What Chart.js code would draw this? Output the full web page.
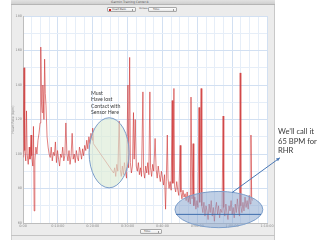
<!DOCTYPE html>
<html><head><meta charset="utf-8">
<script src="https://cdn.jsdelivr.net/npm/chart.js@4.4.1/dist/chart.umd.min.js"></script>
<style>
html,body{margin:0;padding:0;width:320px;height:240px;overflow:hidden;background:#fff;font-family:"DejaVu Sans",sans-serif;}
#win{position:absolute;left:11px;top:0;width:264px;height:240px;background:#ececec;border-left:1px solid #d0d0d0;border-right:1px solid #c8c8c8;box-sizing:border-box;}
#titlebar{position:absolute;left:11px;top:0;width:264px;height:5px;background:linear-gradient(#e2e2e2,#cfcfcf);border-bottom:1px solid #b5b5b5;box-sizing:border-box;}
#title{position:absolute;left:100px;top:0;width:60px;text-align:center;font-size:3px;line-height:4px;color:#555;}
.dd{position:absolute;height:5px;border:1px solid #a8a8a8;border-radius:1px;background:linear-gradient(#fff,#e6e6e6);box-sizing:border-box;font-size:2.6px;line-height:3px;color:#333;}
.dd span{position:absolute;top:0;}
.dd i{position:absolute;right:1px;top:0.5px;width:1px;height:2px;border-left:1px solid #999;}
#sq{position:absolute;left:1px;top:0.5px;width:2px;height:2px;background:#d41b1b;}
#vs{position:absolute;left:139px;top:7px;font-size:2.6px;line-height:4px;color:#444;}
#botline{position:absolute;left:11px;top:235px;width:264px;height:1px;background:#c4c4c4;}
#c{position:absolute;left:0;top:0;}
.note{position:absolute;font-family:Lato,"Open Sans",sans-serif;color:#3a3a3a;white-space:nowrap;z-index:5;}
#n1{left:91px;top:90px;font-size:5.2px;line-height:6.4px;}
#n2{left:278px;top:127px;font-size:7.6px;line-height:9.6px;}
</style></head>
<body>
<div id="win"></div>
<div id="titlebar"></div>
<div id="title">Garmin Training Center®</div>
<div class="dd" style="left:107px;top:7px;width:29px;"><div id="sq"></div><span style="left:4px">Heart Rate</span><i></i></div>
<div id="vs">Versus</div>
<div class="dd" style="left:148px;top:7px;width:29px;"><span style="left:4px">Time</span><i></i></div>
<div class="dd" style="left:140px;top:229px;width:22px;"><span style="left:3px">Time</span><i></i></div>
<div id="botline"></div>
<canvas id="c" width="320" height="240"></canvas>
<div class="note" id="n1">Must<br>Have lost<br>Contact with<br>Sensor Here</div>
<div class="note" id="n2">We’ll call it<br>65 BPM for<br>RHR</div>
<script>
// elapsed time (minutes)
const timeMin = [
0.0,0.3,0.5,0.8,1.0,1.2,1.5,1.8,2.0,2.3,2.5,2.8,3.0,3.2,3.4,3.7,4.0,4.3,4.6,4.9,
5.1,5.3,5.5,5.7,6.0,6.2,6.4,6.6,6.9,7.2,7.5,7.8,8.1,8.4,8.7,9.0,9.3,9.6,9.9,10.2,
10.5,10.8,11.1,11.4,11.7,12.0,12.3,12.6,12.9,13.2,13.5,13.8,14.1,14.4,14.7,15.0,15.3,15.6,15.9,16.2,
16.5,16.8,17.1,17.4,17.7,18.0,18.3,18.6,18.9,19.2,19.5,19.8,20.0,20.2,
26.0,26.3,26.6,26.9,27.2,27.6,27.9,28.2,28.5,28.8,29.1,29.4,29.7,30.1,30.3,30.6,30.8,31.1,31.4,31.7,
31.9,32.2,32.5,32.8,33.1,33.4,33.7,34.0,34.4,34.6,34.9,35.2,35.5,35.8,36.1,36.4,36.6,36.9,37.2,37.5,
37.9,38.2,38.5,38.8,39.1,39.4,39.7,40.0,40.3,40.6,40.9,41.1,41.4,41.6,41.9,42.2,42.5,42.8,43.0,43.3,
43.5,43.8,44.1,44.4,44.7,45.1,45.3,45.6,45.9,46.2,46.5,46.8,47.1,47.4,47.7,48.0,48.2,48.5,48.8,49.0,
49.3,49.6,49.9,50.2,50.5,50.7,51.1,51.3,51.6,51.9,52.2,52.5,52.8,53.1,53.4,53.7,54.0,54.3,54.6,54.9,
55.2,55.5,55.8,56.1,56.4,56.7,57.1,57.4,57.6,57.9,58.2,58.5,58.8,59.1,59.4,59.7,60.0,60.3,60.6,60.9,
61.2,61.5,61.8,62.1,62.3,62.5,62.8,63.1,63.4,63.7,64.0,64.3,64.6,64.9,65.2,65.4,65.6,65.8
];
// heart rate (bpm)
const heartRate = [
98,150,102,96,125,100,94,104,97,111,99,93,116,67,96,104,100,108,112,118,
162,130,124,140,120,155,135,128,110,104,100,98,104,96,101,99,107,95,102,97,
93,100,98,104,96,99,118,100,96,102,94,99,112,97,100,95,102,98,96,104,
101,97,103,99,105,102,108,103,110,106,112,108,115,106,
89,92,87,94,90,119,91,87,93,88,95,90,86,140,92,156,95,89,93,124,
97,120,93,90,95,88,92,87,136,90,86,93,89,95,88,136,92,87,94,90,
109,91,86,93,88,84,90,86,82,88,68,84,111,86,80,84,79,131,83,138,
81,78,84,79,76,105,78,74,79,75,77,73,78,72,76,71,133,74,106,70,
75,68,73,69,127,72,138,70,66,72,64,70,67,62,71,66,73,64,69,61,
68,72,65,70,63,68,66,122,69,64,71,66,62,70,67,73,65,69,63,71,
66,74,68,64,147,70,66,72,67,75,69,73,68,76,71,111,75,73
];
// axis ticks
const xTickMinutes = [0,10,20,30,40,50,60,70];
const xTickLabels = ["0:00","0:10:00","0:20:00","0:30:00","0:40:00","0:50:00","1:00:00","1:10:00"];
const yTicks = [60,80,100,120,140,160,180];
// annotation anchors (minutes, bpm)
const sensorLossArea = {t:24.7, hr:100.7, dt:5.74, dhr:20.3};
const restingArea = {t:56.2, hr:67.8, dt:12.6, dhr:10.5};
const restingHR = {hr:65, t0:43.9, t1:68.3};
const arrowFromTo = {t0:60.0, hr0:77.7, t1:73.7, hr1:97.8};

const points = timeMin.map((t,i)=>({x:t,y:heartRate[i]}));

const bgPlugin = {
  id:'bg',
  beforeDraw(chart){
    const {ctx,chartArea:a} = chart;
    ctx.save();
    ctx.fillStyle='#fff';
    ctx.fillRect(a.left,a.top,a.right-a.left,a.bottom-a.top);
    ctx.restore();
  }
};
const annotPlugin = {
  id:'annot',
  afterDatasetsDraw(chart){
    const {ctx,scales:{x,y}} = chart;
    ctx.save();
    const ell=(e,fill)=>{
      const cx=x.getPixelForValue(e.t), cy=y.getPixelForValue(e.hr);
      const rx=x.getPixelForValue(e.t+e.dt)-cx, ry=cy-y.getPixelForValue(e.hr+e.dhr);
      ctx.beginPath(); ctx.ellipse(cx,cy,rx,ry,0,0,Math.PI*2);
      ctx.fillStyle=fill; ctx.fill();
      ctx.lineWidth=1; ctx.strokeStyle='#7d9fcb'; ctx.stroke();
    };
    ell(sensorLossArea,'rgba(218,234,212,0.62)');
    ell(restingArea,'rgba(138,167,208,0.55)');
    // RHR line
    ctx.beginPath();
    const ly=y.getPixelForValue(restingHR.hr);
    ctx.moveTo(x.getPixelForValue(restingHR.t0),ly);
    ctx.lineTo(x.getPixelForValue(restingHR.t1),ly);
    ctx.strokeStyle='#3f6fae'; ctx.lineWidth=1; ctx.stroke();
    // arrow
    const ax0=x.getPixelForValue(arrowFromTo.t0), ay0=y.getPixelForValue(arrowFromTo.hr0);
    const ax1=x.getPixelForValue(arrowFromTo.t1), ay1=y.getPixelForValue(arrowFromTo.hr1);
    ctx.beginPath(); ctx.moveTo(ax0,ay0); ctx.lineTo(ax1,ay1);
    ctx.strokeStyle='#4a78b5'; ctx.lineWidth=1; ctx.stroke();
    const ang=Math.atan2(ay1-ay0,ax1-ax0), L=4;
    ctx.beginPath(); ctx.moveTo(ax1,ay1);
    ctx.lineTo(ax1-L*Math.cos(ang-0.45),ay1-L*Math.sin(ang-0.45));
    ctx.lineTo(ax1-L*Math.cos(ang+0.45),ay1-L*Math.sin(ang+0.45));
    ctx.closePath(); ctx.fillStyle='#4a78b5'; ctx.fill();
    ctx.restore();
  }
};

new Chart(document.getElementById('c'),{
  type:'line',
  data:{datasets:[{data:points,borderColor:'rgba(206,48,48,0.68)',borderWidth:0.9,pointRadius:0,tension:0,fill:false}]},
  options:{
    responsive:false,animation:false,
    layout:{padding:{left:11,right:53,top:16,bottom:0}},
    plugins:{legend:{display:false},tooltip:{enabled:false}},
    scales:{
      x:{type:'linear',min:0,max:70,
        afterFit(s){s.height=17;},
        afterBuildTicks(s){const t=[];for(let v=0;v<=70;v+=2.5)t.push({value:v});s.ticks=t;},
        ticks:{autoSkip:false,maxRotation:0,padding:1,color:'#8a8a8a',font:{size:3.4,family:'DejaVu Sans'},
          callback(v){const i=xTickMinutes.indexOf(v);return i>=0?xTickLabels[i]:'';}},
        grid:{color(c){return c.tick&&xTickMinutes.includes(c.tick.value)?'#d2e0f2':'#e6eef8';},drawTicks:false},
        border:{color:'#bdbdbd'}
      },
      y:{min:60,max:180,
        afterFit(s){s.width=12;},
        afterBuildTicks(s){const t=[];for(let v=60;v<=180;v+=10)t.push({value:v});s.ticks=t;},
        title:{display:true,text:'Heart Rate (bpm)',color:'#8a8a8a',font:{size:3.2,family:'DejaVu Sans'},padding:0},
        ticks:{autoSkip:false,padding:1,color:'#8a8a8a',font:{size:3.4,family:'DejaVu Sans'},
          callback(v){return yTicks.includes(v)?String(v):'';}},
        grid:{color(c){return c.tick&&yTicks.includes(c.tick.value)?'#d2e0f2':'#e6eef8';},drawTicks:false},
        border:{color:'#bdbdbd'}
      }
    }
  },
  plugins:[bgPlugin,annotPlugin]
});
</script>
</body></html>
